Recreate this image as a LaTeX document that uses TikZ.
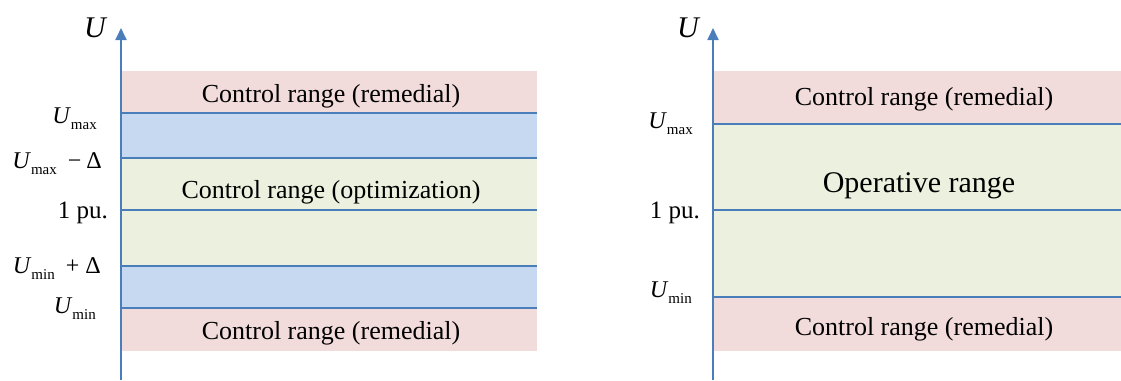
\documentclass[tikz,border=0pt]{standalone}
\usepackage{fontspec}
\setmainfont{Liberation Serif}
\usetikzlibrary{arrows.meta}
\definecolor{pinkband}{HTML}{F2DCDB}
\definecolor{blueband}{HTML}{C6D9F1}
\definecolor{greenband}{HTML}{EBF1DE}
\definecolor{lineblue}{HTML}{4A7EBB}
\newcommand{\Ulab}[1]{\fontsize{24}{26}\selectfont\textit{U}\raisebox{-0.28em}{\fontsize{15}{15}\selectfont #1}}
\tikzset{
  bandline/.style={draw=lineblue, line width=1.4pt},
  axisline/.style={draw=lineblue, line width=1.8pt, -{Triangle[width=11pt,length=12pt]}},
  bandtext/.style={inner sep=0pt, anchor=base, font=\fontsize{26}{28}\selectfont},
  bigtext/.style={inner sep=0pt, anchor=base, font=\fontsize{30}{32}\selectfont},
  ticklabel/.style={inner sep=0pt, anchor=base east},
  axislabel/.style={inner sep=0pt, anchor=base east, font=\fontsize{30}{32}\selectfont\itshape},
  tickpu/.style={inner sep=0pt, anchor=base east, font=\fontsize{25}{27}\selectfont}
}
\begin{document}
\begin{tikzpicture}[x=1pt,y=-1pt]
\useasboundingbox (0,0) rectangle (1121,380);
% ---------- left panel ----------
\fill[pinkband] (122,71) rectangle (537,113);
\fill[blueband] (122,113) rectangle (537,158);
\fill[greenband] (122,158) rectangle (537,266);
\fill[blueband] (122,266) rectangle (537,308);
\fill[pinkband] (122,308) rectangle (537,351);
\coordinate (L1a) at (122,113); \coordinate (L1b) at (537,113);
\coordinate (L2a) at (122,158); \coordinate (L2b) at (537,158);
\coordinate (L3a) at (122,210); \coordinate (L3b) at (537,210);
\coordinate (L4a) at (122,266); \coordinate (L4b) at (537,266);
\coordinate (L5a) at (122,308); \coordinate (L5b) at (537,308);
\foreach \i in {1,...,5} {\draw[bandline] (L\i a) -- (L\i b);}
\coordinate (LA0) at (121,380);
\coordinate (LA1) at (121,28);
\draw[axisline] (LA0) -- (LA1);
\node[axislabel] (LU) at (106,37) {U};
\node[ticklabel] (Lmax) at (97,123) {\Ulab{max}};
\node[ticklabel] (Lmaxd) at (102,168) {\Ulab{max}\fontsize{24}{26}\selectfont\hspace{11pt}−\hspace{5pt}Δ};
\node[tickpu] (Lpu) at (108,218) {1 pu.};
\node[ticklabel] (Lmind) at (101,273) {\Ulab{min}\fontsize{24}{26}\selectfont\hspace{11pt}+\hspace{6pt}Δ};
\node[ticklabel] (Lmin) at (96,313) {\Ulab{min}};
\node[bandtext] (LT1) at (331,102) {Control range (remedial)};
\node[bandtext] (LT2) at (331,198) {Control range (optimization)};
\node[bandtext] (LT3) at (331,339) {Control range (remedial)};
% ---------- right panel ----------
\fill[pinkband] (714,71) rectangle (1121,124);
\fill[greenband] (714,124) rectangle (1121,297);
\fill[pinkband] (714,297) rectangle (1121,351);
\coordinate (R1a) at (714,124); \coordinate (R1b) at (1121,124);
\coordinate (R2a) at (714,210); \coordinate (R2b) at (1121,210);
\coordinate (R3a) at (714,297); \coordinate (R3b) at (1121,297);
\foreach \i in {1,...,3} {\draw[bandline] (R\i a) -- (R\i b);}
\coordinate (RA0) at (713,380);
\coordinate (RA1) at (713,28);
\draw[axisline] (RA0) -- (RA1);
\node[axislabel] (RU) at (699,37) {U};
\node[ticklabel] (Rmax) at (693,128) {\Ulab{max}};
\node[tickpu] (Rpu) at (700,218) {1 pu.};
\node[ticklabel] (Rmin) at (692,297) {\Ulab{min}};
\node[bandtext] (RT1) at (924,105) {Control range (remedial)};
\node[bigtext] (RT2) at (919,192) {Operative range};
\node[bandtext] (RT3) at (924,335) {Control range (remedial)};
\end{tikzpicture}
\end{document}
